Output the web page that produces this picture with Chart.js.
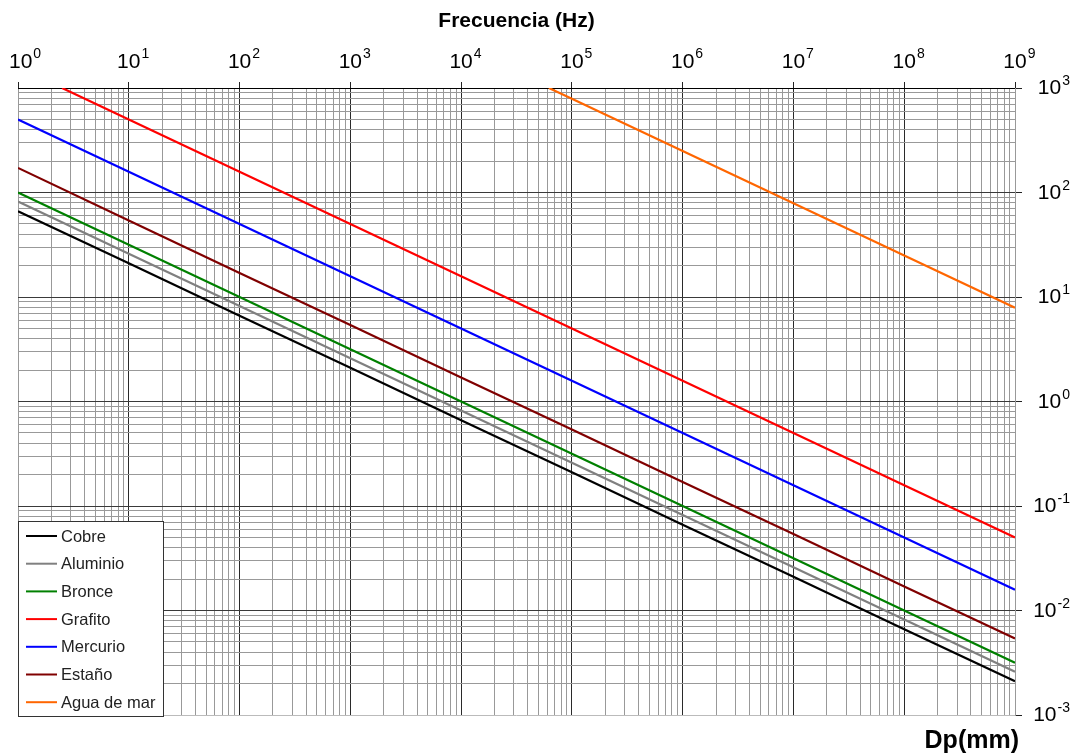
<!DOCTYPE html>
<html>
<head>
<meta charset="utf-8">
<script src="https://cdn.jsdelivr.net/npm/chart.js@4.4.1/dist/chart.umd.min.js"></script>
<style>
html,body{margin:0;padding:0;background:#fff;}
#wrap{width:1077px;height:754px;position:relative;}
</style>
</head>
<body>
<div id="wrap"><canvas id="c" width="1077" height="754"></canvas></div>
<script>
// ---- data ----
const freqs      = [1, 1e1, 1e2, 1e3, 1e4, 1e5, 1e6, 1e7, 1e8, 1e9];
const cobre      = [66, 21, 6.6, 2.1, 0.66, 0.21, 0.066, 0.021, 0.0066, 0.0021];
const aluminio   = [82, 26, 8.2, 2.6, 0.82, 0.26, 0.082, 0.026, 0.0082, 0.0026];
const bronce     = [100, 31.6, 10, 3.16, 1.0, 0.316, 0.1, 0.0316, 0.01, 0.00316];
const estano     = [172, 54, 17, 5.4, 1.7, 0.54, 0.17, 0.054, 0.017, 0.0054];
const mercurio   = [500, 158, 50, 15.8, 5, 1.58, 0.5, 0.158, 0.05, 0.0158];
const grafitoFreqs = [2.5, 1e1, 1e2, 1e3, 1e4, 1e5, 1e6, 1e7, 1e8, 1e9];
const grafito    = [1000, 500, 158, 50, 15.8, 5, 1.58, 0.5, 0.158, 0.05];
const aguaFreqs  = [6.2e4, 1e5, 1e6, 1e7, 1e8, 1e9];
const agua       = [1000, 790, 250, 79, 25, 7.9];
const xTickExps  = [0,1,2,3,4,5,6,7,8,9];
const yTickExps  = [3,2,1,0,-1,-2,-3];
const seriesNames = ['Cobre','Aluminio','Bronce','Grafito','Mercurio','Estaño','Agua de mar'];
const seriesColors = ['#000000','#808080','#008000','#ff0000','#0000ff','#800000','#ff6600'];
const xTitle = 'Frecuencia (Hz)';
const yTitle = 'Dp(mm)';

function pts(xs, ys){ return xs.map((x,i)=>({x:x, y:ys[i]})); }
const seriesData = [
  pts(freqs, cobre), pts(freqs, aluminio), pts(freqs, bronce),
  pts(grafitoFreqs, grafito), pts(freqs, mercurio), pts(freqs, estano),
  pts(aguaFreqs, agua)
];

const FONT = '"Liberation Sans", Arial, sans-serif';

function logTicks(minE, maxE){
  const t = [];
  for (let e = minE; e < maxE; e++){
    for (let m = 1; m <= 9; m++) t.push({value: m * Math.pow(10, e)});
  }
  t.push({value: Math.pow(10, maxE)});
  return t;
}
function isMajor(v){
  const l = Math.log10(v);
  return Math.abs(l - Math.round(l)) < 1e-9;
}

const labelsPlugin = {
  id: 'labelsPlugin',
  afterDraw(chart){
    const ctx = chart.ctx;
    const xs = chart.scales.x, ys = chart.scales.y;
    ctx.save();
    ctx.fillStyle = '#000';
    ctx.textBaseline = 'alphabetic';
    ctx.textAlign = 'left';
    // x tick labels
    xTickExps.forEach(e => {
      const px = xs.getPixelForValue(Math.pow(10, e));
      ctx.font = '21px ' + FONT;
      const w = ctx.measureText('10').width;
      let x0 = px - w/2;
      if (x0 < 9) x0 = 9;
      ctx.fillText('10', x0, 68);
      ctx.font = '14px ' + FONT;
      ctx.fillText(String(e), x0 + w + 1, 58);
    });
    // y tick labels
    yTickExps.forEach(e => {
      const py = ys.getPixelForValue(Math.pow(10, e));
      ctx.font = '21px ' + FONT;
      const w = ctx.measureText('10').width;
      ctx.font = '14px ' + FONT;
      const we = ctx.measureText(String(e)).width;
      const x0 = 1070 - (w + 1 + we);
      ctx.font = '21px ' + FONT;
      ctx.fillText('10', x0, py + 6);
      ctx.font = '14px ' + FONT;
      ctx.fillText(String(e), x0 + w + 1, py - 3);
    });
    // titles
    ctx.font = 'bold 21px ' + FONT;
    ctx.textAlign = 'center';
    ctx.fillText(xTitle, (chart.chartArea.left + chart.chartArea.right)/2, 27);
    ctx.font = 'bold 25px ' + FONT;
    ctx.textAlign = 'right';
    ctx.fillText(yTitle, 1019, 748);
    // legend box
    const bx = chart.chartArea.left, by = 521, bw = 145, bh = 195;
    ctx.fillStyle = '#fff';
    ctx.fillRect(bx, by, bw, bh);
    ctx.strokeStyle = '#333';
    ctx.lineWidth = 1;
    ctx.strokeRect(bx + 0.5, by + 0.5, bw, bh);
    ctx.font = '16.5px ' + FONT;
    ctx.textAlign = 'left';
    ctx.textBaseline = 'middle';
    chart.data.datasets.forEach((ds, i) => {
      const yy = 536 + i * 27.7;
      ctx.strokeStyle = ds.borderColor;
      ctx.lineWidth = 2;
      ctx.beginPath();
      ctx.moveTo(bx + 8, yy);
      ctx.lineTo(bx + 39, yy);
      ctx.stroke();
      ctx.fillStyle = '#222';
      ctx.fillText(ds.label, bx + 43, yy + 1);
    });
    ctx.restore();
  }
};

new Chart(document.getElementById('c'), {
  type: 'line',
  data: {
    datasets: seriesNames.map((n, i) => ({
      label: n,
      data: seriesData[i],
      borderColor: seriesColors[i],
      backgroundColor: seriesColors[i],
      borderWidth: 2.2,
      pointRadius: 0,
      tension: 0,
      fill: false
    }))
  },
  options: {
    responsive: false,
    animation: false,
    layout: { padding: { left: 18, right: 0, top: 0, bottom: 39 } },
    plugins: { legend: { display: false }, tooltip: { enabled: false }, title: { display: false } },
    scales: {
      x: {
        type: 'logarithmic',
        position: 'top',
        min: 1, max: 1e9,
        afterBuildTicks: s => { s.ticks = logTicks(0, 9); },
        afterFit: s => { s.height = 88; },
        ticks: { display: false },
        border: { display: true, color: '#000', width: 1 },
        grid: {
          tickLength: 6,
          lineWidth: 1,
          color: c => {
            const v = c.tick ? c.tick.value : 0;
            if (v === 1 || v === 1e9) return '#999';
            return isMajor(v) ? '#2a2a2a' : '#999999';
          },
          tickColor: c => (c.tick && isMajor(c.tick.value)) ? '#222' : 'rgba(0,0,0,0)'
        }
      },
      y: {
        type: 'logarithmic',
        position: 'right',
        min: 1e-3, max: 1e3,
        afterBuildTicks: s => { s.ticks = logTicks(-3, 3); },
        afterFit: s => { s.width = 62; },
        ticks: { display: false },
        border: { display: true, color: '#999', width: 1 },
        grid: {
          tickLength: 7,
          lineWidth: 1,
          color: c => {
            const v = c.tick ? c.tick.value : 0;
            if (Math.abs(v - 1e-3) < 1e-12) return '#bbb';
            if (Math.abs(v - 1e3) < 1e-6) return '#000';
            return isMajor(v) ? '#3a3a3a' : '#999999';
          },
          tickColor: c => (c.tick && isMajor(c.tick.value)) ? '#222' : 'rgba(0,0,0,0)'
        }
      }
    }
  },
  plugins: [labelsPlugin]
});
</script>
</body>
</html>
